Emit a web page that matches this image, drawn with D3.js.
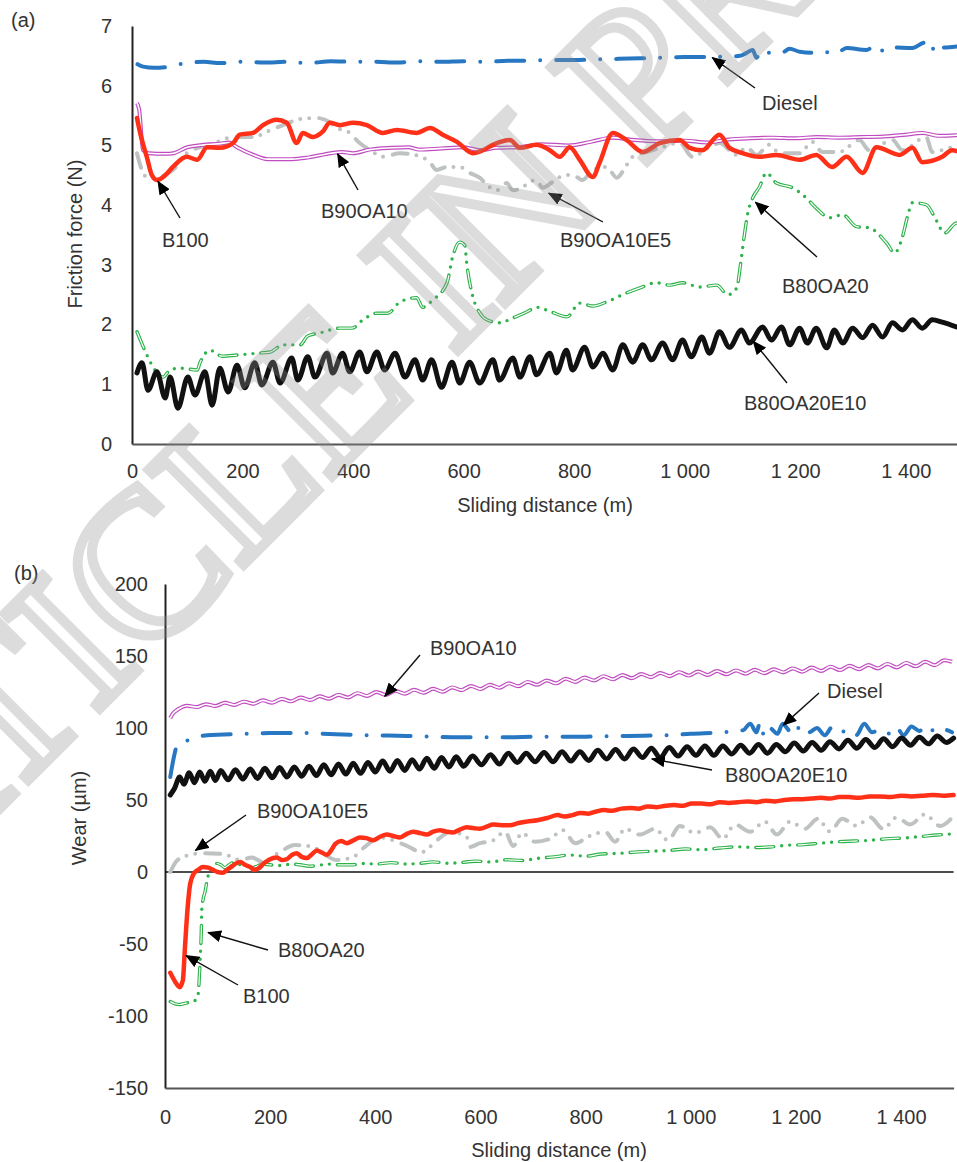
<!DOCTYPE html>
<html><head><meta charset="utf-8">
<script src="https://cdn.jsdelivr.net/npm/d3@7"></script>
<style>body{margin:0;background:#fff}svg{display:block}</style>
</head><body>
<svg id="c" width="957" height="1162"></svg>
<script>
// ---------- data ----------
const xTicks = [0,200,400,600,800,1000,1200,1400];
const frictionTicks = [0,1,2,3,4,5,6,7];
const wearTicks = [-150,-100,-50,0,50,100,150,200];
const seriesNames = ["Diesel","B100","B90OA10","B90OA10E5","B80OA20","B80OA20E10"];

// (a) friction force (N) vs sliding distance (m)
const frictionDiesel = [[10,6.36],[20,6.32],[40,6.30],[60,6.31],[80,6.35],[100,6.38],[130,6.40],[160,6.38],[200,6.40],[240,6.39],[280,6.40],[320,6.38],[360,6.41],[400,6.40],[440,6.40],[480,6.39],[520,6.41],[560,6.40],[600,6.41],[640,6.40],[680,6.42],[720,6.42],[760,6.43],[800,6.43],[840,6.44],[880,6.45],[920,6.46],[960,6.47],[1000,6.48],[1040,6.48],[1080,6.49],[1100,6.50],[1112,6.55],[1123,6.60],[1130,6.47],[1139,6.60],[1153,6.55],[1175,6.55],[1190,6.62],[1208,6.57],[1238,6.55],[1257,6.56],[1267,6.61],[1280,6.58],[1293,6.63],[1329,6.60],[1347,6.68],[1361,6.57],[1376,6.64],[1412,6.63],[1434,6.72],[1446,6.57],[1455,6.72],[1470,6.64],[1484,6.65],[1500,6.66]];
const frictionB100 = [[9,5.46],[15,5.2],[27,4.8],[36,4.5],[45,4.42],[60,4.5],[74,4.64],[99,4.81],[118,4.76],[136,4.97],[159,4.96],[183,5.04],[195,5.18],[219,5.21],[237,5.34],[262,5.43],[280,5.38],[298,5.04],[309,5.21],[327,5.14],[345,5.23],[358,5.38],[376,5.34],[400,5.38],[425,5.34],[454,5.21],[479,5.26],[515,5.21],[539,5.29],[562,5.18],[588,5.06],[617,4.87],[635,4.92],[653,5.01],[684,5.09],[702,4.96],[732,5.01],[756,4.92],[774,4.81],[792,4.97],[810,4.76],[834,4.47],[846,4.71],[870,5.21],[895,5.09],[924,4.89],[955,5.04],[991,5.09],[1009,4.96],[1032,4.92],[1063,5.18],[1081,4.96],[1105,4.87],[1135,4.81],[1166,4.84],[1208,4.76],[1238,4.84],[1267,4.64],[1293,4.81],[1322,4.54],[1347,4.97],[1389,4.84],[1412,4.96],[1430,4.72],[1466,4.81],[1484,4.92],[1500,4.88]];
const frictionB90OA10 = [[9,5.71],[13,5.6],[20,4.92],[30,4.87],[60,4.86],[75,4.87],[100,4.97],[130,5.01],[160,5.03],[175,5.05],[190,4.97],[220,4.84],[245,4.77],[290,4.77],[320,4.80],[360,4.87],[380,4.89],[400,4.87],[430,4.93],[470,4.96],[500,4.97],[520,4.93],[560,4.95],[600,4.97],[630,4.92],[660,4.96],[700,4.97],[740,5.02],[790,5.00],[830,5.06],[870,5.13],[910,5.09],[950,5.07],[1000,5.08],[1040,5.05],[1080,5.10],[1120,5.12],[1160,5.13],[1200,5.12],[1240,5.14],[1280,5.13],[1320,5.14],[1360,5.15],[1400,5.18],[1430,5.21],[1460,5.16],[1490,5.17],[1500,5.18]];
const frictionB90OA10E5 = [[9,4.87],[20,4.54],[27,4.47],[45,4.47],[74,4.59],[99,4.87],[123,4.97],[154,5.06],[183,5.14],[219,5.14],[244,5.23],[273,5.34],[304,5.44],[334,5.46],[358,5.39],[371,5.29],[391,5.23],[412,5.04],[436,4.89],[454,4.81],[485,4.87],[512,4.84],[539,4.72],[551,4.59],[570,4.64],[593,4.64],[611,4.54],[629,4.46],[647,4.30],[660,4.25],[678,4.37],[689,4.25],[707,4.30],[720,4.39],[732,4.42],[743,4.29],[761,4.39],[774,4.47],[797,4.51],[815,4.42],[834,4.59],[859,4.64],[877,4.46],[895,4.67],[906,4.81],[931,4.89],[955,4.96],[991,5.04],[1014,4.81],[1045,4.97],[1063,5.04],[1094,4.84],[1112,4.97],[1130,4.84],[1153,5.01],[1172,4.87],[1208,4.87],[1231,5.06],[1249,4.89],[1280,4.89],[1316,5.09],[1334,4.92],[1376,5.09],[1394,4.92],[1437,5.14],[1448,4.89],[1484,4.97],[1500,5.0]];
const frictionB80OA20 = [[9,1.88],[27,1.49],[38,1.29],[56,1.12],[69,1.24],[87,1.27],[118,1.24],[123,1.36],[141,1.57],[163,1.47],[190,1.49],[226,1.52],[250,1.54],[273,1.66],[304,1.66],[318,1.81],[340,1.86],[376,1.94],[398,1.94],[418,2.08],[443,2.19],[463,2.19],[485,2.38],[515,2.45],[526,2.29],[544,2.41],[570,2.70],[580,3.13],[593,3.38],[602,3.33],[606,3.0],[617,2.46],[629,2.20],[642,2.08],[665,2.03],[689,2.11],[714,2.21],[732,2.29],[759,2.21],[787,2.13],[810,2.36],[834,2.31],[859,2.38],[895,2.53],[918,2.61],[949,2.70],[973,2.66],[996,2.70],[1027,2.63],[1058,2.66],[1078,2.50],[1094,2.61],[1101,3.0],[1108,3.5],[1115,3.9],[1123,4.12],[1135,4.30],[1148,4.54],[1166,4.37],[1195,4.29],[1220,4.12],[1238,3.95],[1262,3.79],[1286,3.84],[1311,3.64],[1334,3.62],[1365,3.37],[1380,3.20],[1394,3.47],[1403,3.80],[1412,4.04],[1437,4.01],[1455,3.75],[1470,3.53],[1492,3.70],[1500,3.68]];
const frictionB80OA20E10 = [[9,1.19],[18,1.36],[29,0.90],[45,1.21],[60,0.77],[69,1.12],[83,0.60],[101,1.12],[114,0.82],[132,1.21],[145,0.65],[159,1.27],[174,0.87],[190,1.32],[204,0.94],[222,1.36],[235,0.99],[255,1.37],[268,1.02],[289,1.44],[300,1.07],[318,1.46],[331,1.12],[353,1.52],[363,1.19],[381,1.52],[394,1.21],[412,1.54],[425,1.21],[443,1.54],[457,1.24],[476,1.52],[494,1.12],[512,1.41],[526,1.07],[542,1.41],[560,0.95],[579,1.37],[593,1.02],[611,1.37],[629,1.02],[653,1.41],[665,1.07],[689,1.44],[702,1.12],[720,1.46],[732,1.16],[756,1.52],[768,1.19],[786,1.57],[797,1.24],[819,1.62],[834,1.29],[852,1.52],[870,1.24],[888,1.66],[906,1.37],[924,1.66],[940,1.41],[960,1.69],[978,1.41],[996,1.74],[1012,1.46],[1031,1.79],[1045,1.52],[1063,1.88],[1081,1.62],[1103,1.91],[1117,1.69],[1141,1.96],[1157,1.74],[1175,1.96],[1190,1.66],[1208,1.94],[1222,1.69],[1238,1.94],[1257,1.61],[1271,1.91],[1286,1.69],[1304,1.94],[1322,1.78],[1340,1.99],[1358,1.79],[1376,2.03],[1394,1.91],[1412,2.08],[1430,1.94],[1448,2.08],[1466,2.04],[1492,1.96]];

// (b) wear (µm) vs sliding distance (m)
const wearDiesel = [[10,66],[17,80],[23,88],[48,92],[80,95],[160,96],[200,96.5],[260,96.5],[300,96],[380,95],[460,94.5],[560,93.5],[640,93.5],[720,94],[800,94],[880,94.5],[960,95],[1000,96],[1060,97],[1100,98.5],[1113,103],[1125,97],[1132,104],[1140,94],[1150,100],[1165,96],[1175,103],[1185,99],[1195,95],[1210,102],[1225,97],[1240,100],[1255,95],[1270,101],[1285,97],[1300,99],[1315,95],[1330,103],[1345,97],[1360,99],[1375,96],[1390,101],[1405,95],[1420,101],[1435,98],[1450,102],[1465,97],[1480,99],[1497,97]];
const wearB100 = [[10,-70],[19,-76],[28,-80],[34,-75],[38,-52],[43,-25],[48,-8],[55,-1],[63,1.5],[72,3.5],[82,3],[91,1.5],[100,0],[110,-0.5],[118,1.5],[126,3.5],[135,6],[143,7],[152,5],[162,3.5],[170,1.5],[178,2.5],[188,6],[198,8.5],[213,10],[222,8.3],[232,9],[242,12],[251,13],[260,10.5],[270,9.7],[280,12.5],[289,15],[298,13.5],[308,12],[316,15],[324,19.5],[335,21.5],[346,20],[358,22],[371,24],[383,23.5],[396,22],[409,24.5],[422,26],[434,25],[447,24],[460,26.5],[472,28],[485,27],[498,26],[510,28],[523,29],[536,28],[548,27.5],[561,29.5],[574,31],[586,30.5],[599,30],[612,31.5],[624,33],[640,32.5],[656,32.5],[672,34],[688,35],[708,36],[727,37.5],[747,39.5],[760,38.5],[775,39.5],[790,41],[805,40.5],[820,42],[835,43],[850,42.5],[868,44],[885,44.5],[900,44],[918,45.5],[935,45],[952,46],[968,46.5],[985,46],[1002,47.5],[1020,47.5],[1038,47],[1055,48.5],[1072,48],[1090,48.5],[1108,49],[1125,48.5],[1142,49.5],[1160,49],[1178,50],[1196,50.5],[1213,50.5],[1230,51],[1248,51.5],[1265,51],[1282,52],[1300,52],[1320,51.5],[1340,52.5],[1360,52.5],[1380,52],[1400,53],[1420,52.5],[1440,53],[1460,53.5],[1480,53],[1500,53.5]];
const wearB90OA10 = [[10,107],[15,110],[25,113],[42,115.5],[60,114.5],[78,116.5],[96,115.3],[114,117.5],[132,116],[150,118.3],[168,116.8],[186,119.2],[204,117.6],[222,120.2],[240,118.5],[258,121.2],[276,119.4],[294,122],[312,120.3],[330,123],[348,121.2],[366,124.2],[384,122.3],[402,125],[420,123],[438,125.8],[456,123.8],[474,126.5],[492,124.5],[510,127.3],[528,125.2],[546,128.2],[564,126.3],[582,129.2],[600,127],[618,130],[636,128],[654,131],[672,129],[690,132],[708,130],[726,133],[744,131],[762,134.2],[780,132],[798,135],[816,133],[834,136],[852,133.8],[870,136.8],[888,134.6],[906,137.5],[924,135.3],[942,138.2],[960,136],[978,138.8],[996,136.4],[1014,139.2],[1032,136.8],[1050,139.6],[1068,137.3],[1086,140],[1104,137.7],[1122,140.4],[1140,138.1],[1158,140.8],[1176,138.6],[1194,141.4],[1212,139.1],[1230,142],[1248,139.6],[1266,142.6],[1284,140.2],[1302,143.2],[1320,140.8],[1338,143.8],[1356,141.4],[1374,144.5],[1392,142.1],[1410,145.2],[1428,142.8],[1446,146],[1464,143.6],[1482,147],[1497,146]];
const wearB90OA10E5 = [[10,0],[23,8],[48,12],[67,13],[110,12.5],[143,8.3],[165,10],[186,7],[219,14],[247,18.7],[281,17.4],[304,12],[327,8.3],[358,10.4],[380,17.4],[409,24],[434,22],[456,18.8],[489,13.9],[517,22],[542,27.8],[574,24.3],[580,17.4],[599,20],[624,22],[647,28],[662,18],[679,27],[704,21],[732,23],[757,29],[780,20],[808,25],[837,28],[856,21],[875,30],[903,26],[932,30],[957,22],[979,32],[1008,27],[1037,31],[1061,23],[1084,33],[1113,28],[1141,35],[1164,26],[1189,35],[1217,30],[1242,37],[1265,28],[1288,37],[1316,32],[1341,38],[1366,30],[1392,38],[1417,33],[1446,40],[1474,32],[1500,39]];
const wearB80OA20 = [[10,-90],[19,-91.5],[28,-92],[40,-91],[53,-90],[60,-88],[63,-85],[65,-75],[67,-60],[69,-42],[70,-26],[73,-18],[76,-14],[80,-6],[84,0],[91,4],[98,6],[106,5],[114,3],[122,5],[130,6.5],[140,5],[148,6],[156,4.5],[165,3],[175,4],[185,5.5],[200,5],[220,4.5],[240,5.5],[257,5],[275,4],[289,4.5],[310,5.5],[330,5],[358,5],[380,6],[400,5.5],[430,6.5],[460,5.5],[485,6],[510,7],[540,6],[561,6.5],[590,7.5],[620,7],[650,8.5],[680,8],[708,9.5],[740,10.5],[770,11.8],[800,11],[830,12.5],[865,13],[900,14],[930,14.5],[960,15],[990,16],[1020,15.5],[1056,16.7],[1090,17.5],[1120,17],[1151,17.4],[1180,18.5],[1215,19],[1246,20],[1280,21],[1310,21.5],[1341,22],[1370,23],[1404,23.6],[1435,24.5],[1468,25.7],[1500,26.5]];
const wearB80OA20E10 = [[10,53.5],[18,58],[28,66],[36,61],[46,69],[56,62],[66,69.5],[76,63],[86,70],[96,63.5],[106,70.5],[120,64],[134,71],[148,64.5],[162,71.5],[176,65],[190,72],[204,65.5],[218,72.5],[232,66],[246,73],[260,66.5],[274,73.5],[288,67],[302,74.5],[316,67.5],[330,75],[344,68],[358,75.5],[372,68.5],[386,76],[400,69.5],[414,77],[428,70],[442,77.5],[456,70.5],[470,78],[484,71.5],[498,79],[512,72],[526,79.5],[540,73],[554,80],[568,73.5],[585,80.5],[602,74.5],[619,81.5],[636,75],[653,82.5],[670,76],[687,82.5],[704,76.5],[721,83],[738,76.5],[755,83.5],[772,77],[789,83.5],[806,77.5],[823,84.5],[840,78.5],[857,85],[874,78.5],[891,85.5],[908,79.5],[925,86],[942,79.5],[959,86.5],[976,80.5],[993,87],[1010,81],[1027,87.5],[1044,81],[1061,87.5],[1078,82],[1095,88],[1112,82.5],[1129,88.5],[1146,82.5],[1163,88.5],[1180,83.5],[1197,89.5],[1214,84],[1231,90],[1248,84.5],[1265,90.5],[1282,85.5],[1299,91.5],[1316,86],[1333,92],[1350,86.5],[1367,92.5],[1384,87],[1401,93],[1418,88],[1435,93.5],[1452,89],[1469,94.5],[1486,90],[1500,93]];

const frictionSeries = [frictionDiesel, frictionB100, frictionB90OA10, frictionB90OA10E5, frictionB80OA20, frictionB80OA20E10];
const wearSeries = [wearDiesel, wearB100, wearB90OA10, wearB90OA10E5, wearB80OA20, wearB80OA20E10];

// ---------- styles ----------
const FONT = "'Liberation Sans', Arial, Helvetica, sans-serif";
const TXT = "#333";
const styles = {
  "Diesel":     {color:"#2777C3", width:4,   dash:"28 16 0 16", cap:"round"},
  "B100":       {color:"#FF3018", width:4.5, dash:null, cap:"round"},
  "B90OA10":    {color:"#C04CC0", width:4,   dash:null, cap:"butt", inner:1.6},
  "B90OA10E5":  {color:"#BEC2C2", width:4,   dash:"15 9 0 9 0 10", cap:"round"},
  "B80OA20":    {color:"#2EB34B", width:3.4, dash:"18 8 0 8 0 8", cap:"round", inner:1.2},
  "B80OA20E10": {color:"#111111", width:5,   dash:null, cap:"round"}
};
const drawOrder = [4,0,5,3,2,1]; // green, diesel, black, gray, magenta, red

const svg = d3.select("#c");
const fmt = d3.formatLocale({decimal:".", thousands:" ", grouping:[3], currency:["",""]}).format(",");
const plain = d => String(d);

function drawPanel(o){
  const x = d3.scaleLinear().domain([0,1500]).range(o.xr);
  const y = d3.scaleLinear().domain(o.yd).range(o.yr);
  const g = svg.append("g");
  // axes
  const ya = g.append("g").attr("transform",`translate(${o.xr[0]},0)`)
    .call(d3.axisLeft(y).tickValues(o.yTicks).tickSize(0).tickSizeOuter(0).tickPadding(o.yPad).tickFormat(plain));
  ya.select(".domain").attr("stroke","#222").attr("stroke-width",2);
  const xa = g.append("g").attr("transform",`translate(0,${o.yr[0]})`)
    .call(d3.axisBottom(x).tickValues(xTicks).tickSize(0).tickSizeOuter(0).tickPadding(o.xPad).tickFormat(fmt));
  xa.select(".domain").attr("stroke","#555").attr("stroke-width",2.2);
  g.selectAll(".tick text").attr("fill",TXT).style("font-family",FONT).style("font-size","20px");
  if (o.zero){
    g.append("line").attr("x1",x(0)).attr("x2",x(1500)).attr("y1",y(0)).attr("y2",y(0))
      .attr("stroke","#111").attr("stroke-width",1.6);
  }
  // series
  const line = d3.line().x(d=>x(d[0])).y(d=>y(d[1])).curve(d3.curveMonotoneX);
  drawOrder.forEach(i=>{
    const s = styles[seriesNames[i]];
    const p = g.append("path").datum(o.series[i]).attr("d",line).attr("fill","none")
      .attr("stroke",s.color).attr("stroke-width",s.width).attr("stroke-linecap",s.cap)
      .attr("stroke-linejoin","round");
    if (s.dash) p.attr("stroke-dasharray",s.dash);
    if (s.inner){
      const q = g.append("path").datum(o.series[i]).attr("d",line).attr("fill","none")
        .attr("stroke","#fff").attr("stroke-width",s.inner).attr("stroke-linecap","butt")
        .attr("stroke-linejoin","round");
      if (s.dash) q.attr("stroke-dasharray",s.dash);
    }
  });
  // axis titles
  g.append("text").attr("x",o.xTitle[0]).attr("y",o.xTitle[1]).attr("text-anchor","middle")
    .attr("fill",TXT).style("font-family",FONT).style("font-size","20px").text("Sliding distance (m)");
  g.append("text").attr("transform",`translate(${o.yTitle[0]},${o.yTitle[1]}) rotate(-90)`)
    .attr("text-anchor","middle").attr("fill",TXT).style("font-family",FONT).style("font-size","20px").text(o.yLabel);
  g.append("text").attr("x",o.tag[0]).attr("y",o.tag[1]).attr("fill",TXT)
    .style("font-family",FONT).style("font-size","20px").text(o.tagText);
  // annotations: [label, textX, textY, fromX, fromY, toDataX, toDataY]
  o.notes.forEach(n=>{
    g.append("line").attr("x1",n[3]).attr("y1",n[4]).attr("x2",x(n[5])).attr("y2",y(n[6]))
      .attr("stroke","#111").attr("stroke-width",1.4).attr("marker-end","url(#ah)");
    g.append("text").attr("x",n[1]).attr("y",n[2]).attr("fill",TXT)
      .style("font-family",FONT).style("font-size","20px").text(n[0]);
  });
}

svg.append("defs").append("marker").attr("id","ah").attr("markerUnits","userSpaceOnUse")
  .attr("viewBox","0 0 14 12").attr("refX",13).attr("refY",6).attr("markerWidth",14).attr("markerHeight",12)
  .attr("orient","auto").append("path").attr("d","M0,0L14,6L0,12Z").attr("fill","#000");

drawPanel({
  xr:[132,961], yd:[0,7], yr:[444,26], yTicks:frictionTicks, yPad:20, xPad:20,
  series:frictionSeries, zero:false,
  xTitle:[545,512], yTitle:[82,234], yLabel:"Friction force (N)", tag:[11,27], tagText:"(a)",
  notes:[
    ["Diesel",762,110,755,88,1050,6.47],
    ["B100",162,247,180,218,47,4.40],
    ["B90OA10",321,218,358,190,372,4.86],
    ["B90OA10E5",560,247,603,222,754,4.20],
    ["B80OA20",782,293,817,257,1128,4.05],
    ["B80OA20E10",744,410,787,383,1124,1.72]
  ]
});
drawPanel({
  xr:[165,953.6], yd:[-150,200], yr:[1088,584], yTicks:wearTicks, yPad:17, xPad:22,
  series:wearSeries, zero:true,
  xTitle:[559,1157], yTitle:[86,818], yLabel:"Wear (\u00b5m)", tag:[14,580], tagText:"(b)",
  notes:[
    ["B90OA10",430,655,420,655,418,122],
    ["Diesel",827,698,819,693,1176,102],
    ["B80OA20E10",725,782,712,770,926,78.5],
    ["B90OA10E5",257,818,246,815,58,15],
    ["B80OA20",278,957,268,950,82,-42],
    ["B100",243,1003,238,985,40,-58]
  ]
});

// watermark
svg.append("text").attr("transform","translate(392,318) rotate(-45)")
  .attr("text-anchor","middle").attr("dominant-baseline","central")
  .style("font-family","'Liberation Serif', 'Times New Roman', serif").style("font-size","205px")
  .attr("fill","none").attr("stroke","#939393").attr("stroke-opacity",0.32).attr("stroke-width",10)
  .text("ARTICLE IN PRESS");
</script>
</body></html>
